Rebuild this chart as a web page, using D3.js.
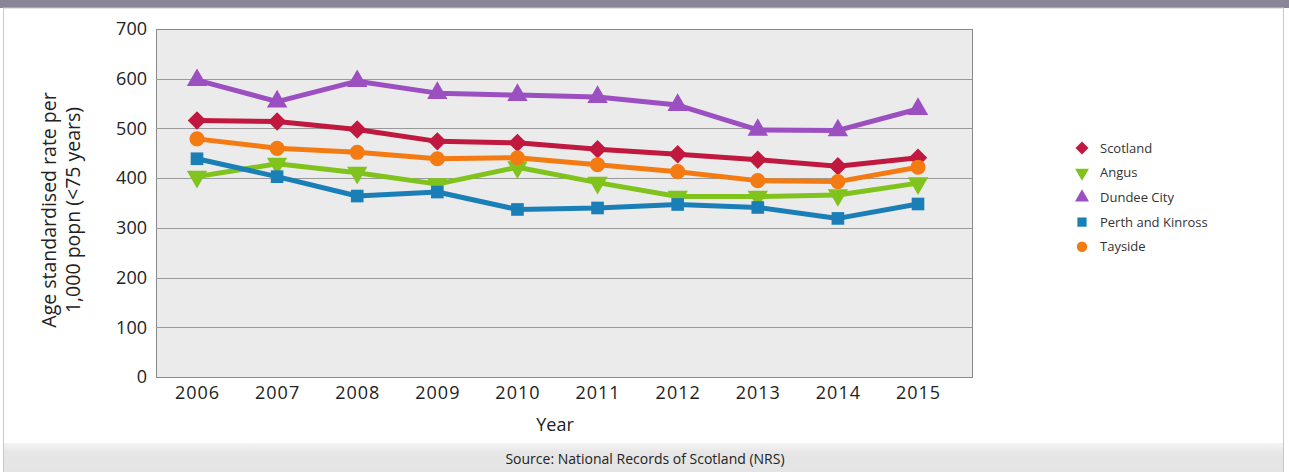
<!DOCTYPE html>
<meta charset="utf-8">
<style>
body {
  margin: 0;
  background: #fff;
  font-family: "Open Sans", sans-serif;
}
text {
  fill: #222;
}
.grid line {
  stroke: #9a9a9a;
  stroke-width: 1;
}
.series path.line {
  fill: none;
  stroke-width: 5;
  stroke-linejoin: round;
}
</style>
<body>
<script src="https://cdn.jsdelivr.net/npm/d3@7"></script>
<script>

var years = [2006, 2007, 2008, 2009, 2010, 2011, 2012, 2013, 2014, 2015];
var yTicks = [0, 100, 200, 300, 400, 500, 600, 700];

var seriesNames = ["Scotland", "Angus", "Dundee City", "Perth and Kinross", "Tayside"];
var scotland = [516, 514, 498, 474, 471, 458, 448, 437, 424, 441];
var angus    = [403, 429, 411, 388, 422, 391, 363, 363, 366, 390];
var dundee   = [597, 554, 595, 571, 567, 563, 547, 497, 496, 539];
var perth    = [439, 403, 364, 372, 337, 340, 347, 341, 319, 348];
var tayside  = [479, 460, 452, 439, 441, 427, 413, 395, 393, 422];

var colors = ["#c0183f", "#7fc31c", "#9b4fc0", "#1a7fb6", "#f47b12"];
// marker kinds, drawn with d3.symbol below
var shapes = ["diamond", "down", "up", "square", "circle"];

var width = 1289,
    height = 472;

var plot = {left: 156, right: 972, top: 29, bottom: 377};

var svg = d3.select("body").append("svg")
    .attr("width", width)
    .attr("height", height);

// frame
svg.append("rect")
    .attr("x", 0).attr("y", 0)
    .attr("width", width).attr("height", 8)
    .attr("fill", "#8b8599");
svg.append("rect")
    .attr("x", 3.5).attr("y", 8)
    .attr("width", 1280).attr("height", 470)
    .attr("fill", "#fff")
    .attr("stroke", "#c8c8c8");

var grad = svg.append("defs").append("linearGradient")
    .attr("id", "foot").attr("x1", 0).attr("x2", 0).attr("y1", 0).attr("y2", 1);
grad.append("stop").attr("offset", 0).attr("stop-color", "#f4f4f4");
grad.append("stop").attr("offset", 0.35).attr("stop-color", "#e6e6e6");
grad.append("stop").attr("offset", 1).attr("stop-color", "#e4e4e4");

svg.append("rect")
    .attr("x", 4).attr("y", 443)
    .attr("width", 1279).attr("height", 29)
    .attr("fill", "url(#foot)");

svg.append("text")
    .attr("x", 645).attr("y", 464)
    .attr("text-anchor", "middle")
    .style("font-size", "14px")
    .text("Source: National Records of Scotland (NRS)");

var x = d3.scalePoint()
    .domain(years)
    .range([197, 918]);

var y = d3.scaleLinear()
    .domain([0, 700])
    .range([plot.bottom, plot.top]);

// plot area
svg.append("rect")
    .attr("x", plot.left + 0.5).attr("y", plot.top + 0.5)
    .attr("width", plot.right - plot.left).attr("height", plot.bottom - plot.top)
    .attr("fill", "#ebebec")
    .attr("stroke", "#8a8a8a");

svg.append("g")
    .attr("class", "grid")
  .selectAll("line")
    .data(yTicks.filter(function(d) { return d > 0 && d < 700; }))
  .enter().append("line")
    .attr("x1", plot.left).attr("x2", plot.right)
    .attr("y1", function(d) { return Math.round(y(d)) + 0.5; })
    .attr("y2", function(d) { return Math.round(y(d)) + 0.5; });

var yAxis = svg.append("g")
    .attr("transform", "translate(" + plot.left + ",0)")
    .call(d3.axisLeft(y).tickValues(yTicks).tickSize(0).tickPadding(9));
yAxis.select(".domain").remove();
yAxis.selectAll("text")
    .attr("fill", "#222")
    .style("font-family", "Open Sans")
    .style("font-size", "18px");

var xAxis = svg.append("g")
    .attr("transform", "translate(0," + plot.bottom + ")")
    .call(d3.axisBottom(x).tickSize(0).tickPadding(9));
xAxis.select(".domain").remove();
xAxis.selectAll("text")
    .attr("fill", "#222")
    .style("font-family", "Open Sans")
    .style("font-size", "18px")
    .style("letter-spacing", "1px");

svg.append("text")
    .attr("x", 555).attr("y", 431)
    .attr("text-anchor", "middle")
    .style("font-size", "18px")
    .text("Year");

var yTitle = svg.append("text")
    .attr("transform", "translate(56,210) rotate(-90)")
    .attr("text-anchor", "middle")
    .style("font-size", "19.5px");
yTitle.append("tspan").attr("x", 0).attr("dy", 0).text("Age standardised rate per");
yTitle.append("tspan").attr("x", 0).attr("dy", 24).text("1,000 popn (<75 years)");

var allSeries = [scotland, angus, dundee, perth, tayside];

var line = d3.line()
    .x(function(d, i) { return x(years[i]); })
    .y(function(d) { return y(d); });

var symbolTypes = {
  diamond: d3.symbolSquare,
  down: d3.symbolTriangle,
  up: d3.symbolTriangle,
  square: d3.symbolSquare,
  circle: d3.symbolCircle
};
var symbolTurn = {diamond: 45, down: 180, up: 0, square: 0, circle: 0};

function symbolPath(shape, size) {
  return d3.symbol().type(symbolTypes[shape]).size(size)();
}
var sizes = [170, 180, 180, 160, 180];

allSeries.forEach(function(values, k) {
  var g = svg.append("g").attr("class", "series");
  g.append("path")
      .attr("class", "line")
      .attr("d", line(values))
      .attr("stroke", colors[k]);
  g.selectAll(".pt")
      .data(values)
    .enter().append("path")
      .attr("class", "pt")
      .attr("d", symbolPath(shapes[k], sizes[k]))
      .attr("fill", colors[k])
      .attr("transform", function(d, i) {
        return "translate(" + x(years[i]) + "," + y(d) + ") rotate(" + symbolTurn[shapes[k]] + ")";
      });
});

// legend
var legend = svg.append("g")
    .attr("transform", "translate(1082,148)");
var item = legend.selectAll("g")
    .data(seriesNames)
  .enter().append("g")
    .attr("transform", function(d, i) { return "translate(0," + (i * 24.7) + ")"; });
item.append("path")
    .attr("d", function(d, i) { return symbolPath(shapes[i], 85); })
    .attr("fill", function(d, i) { return colors[i]; })
    .attr("transform", function(d, i) { return "rotate(" + symbolTurn[shapes[i]] + ")"; });
item.append("text")
    .attr("x", 18)
    .attr("dy", "0.35em")
    .style("font-size", "13px")
    .style("fill", "#333")
    .text(function(d) { return d; });

</script>
